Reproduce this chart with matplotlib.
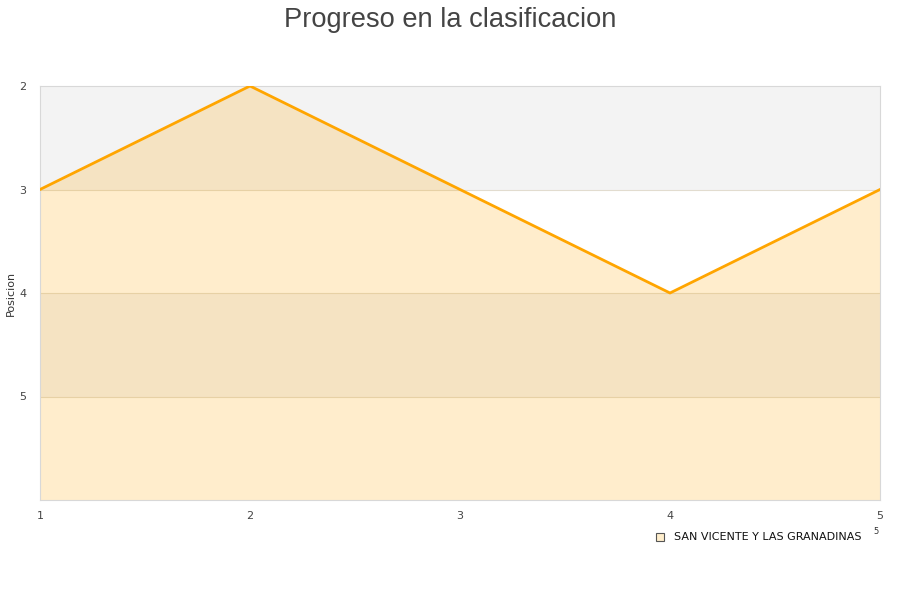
import matplotlib

matplotlib.use("Agg")
import matplotlib.pyplot as plt
from matplotlib.patches import Rectangle

# jornada vs posicion
jornadas = [1, 2, 3, 4, 5]
posiciones = [3, 2, 3, 4, 3]
equipo = "SAN VICENTE Y LAS GRANADINAS"
y_ticks = [2, 3, 4, 5]
y_min, y_max = 2, 6

fig = plt.figure(figsize=(9, 6), dpi=100)
ax = fig.add_axes([40 / 900, 100 / 600, 840 / 900, 414 / 600])

# alternating bands
for lo in range(y_min, y_max):
    if (lo - y_min) % 2 == 0:
        ax.axhspan(lo, lo + 1, color="#f3f3f3", zorder=0, lw=0)
for t in y_ticks[1:]:
    ax.axhline(t, color="#e2dccf", lw=0.8, zorder=1)

ax.fill_between(jornadas, posiciones, y_max, color="orange", alpha=0.2, lw=0, zorder=2)
ax.plot(jornadas, posiciones, color="#ffa500", lw=2, zorder=3)

ax.set_xlim(1, 5)
ax.set_ylim(y_max, y_min)
ax.set_xticks(jornadas)
ax.set_yticks(y_ticks)
ax.tick_params(length=0, labelsize=8, labelcolor="#444444", pad=8)
ax.tick_params(axis="y", pad=10)
for s in ax.spines.values():
    s.set_color("#d8d8d8")
ax.set_ylabel("Posicion", fontsize=8, color="#333333")
ax.yaxis.set_label_coords(-24 / 840, 0.5)

fig.text(0.5, 0.988, "Progreso en la clasificacion", ha="center", va="top",
         fontsize=19.6, color="#444444", family="Liberation Sans")

# legend
fig.patches.append(Rectangle((656 / 900, 1 - 541 / 600), 8 / 900, 8 / 600,
                             transform=fig.transFigure, facecolor="#ffeecc",
                             edgecolor="#555555", lw=0.8))
fig.text(674 / 900, 1 - 537 / 600, equipo, ha="left", va="center",
         fontsize=8, color="#111111")
fig.text(873 / 900, 1 - 532 / 600, "5", ha="left", va="center",
         fontsize=6, color="#333333")

fig.savefig("out.png", dpi=100)
